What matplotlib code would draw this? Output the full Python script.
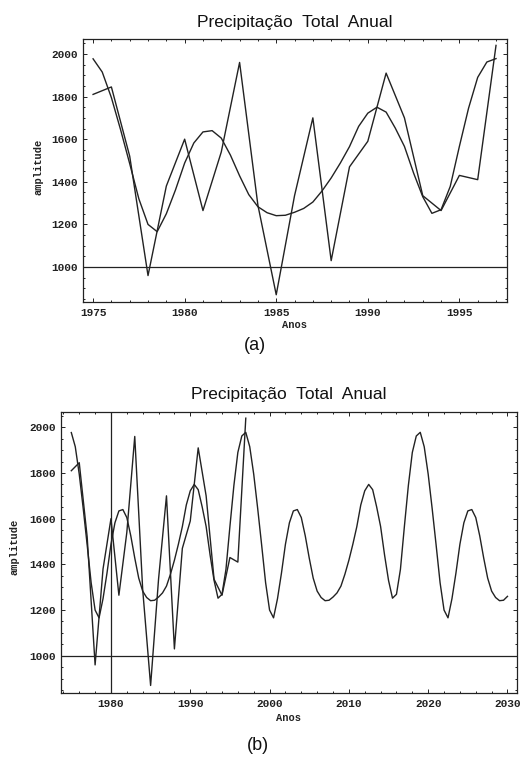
import numpy as np
import matplotlib
matplotlib.use("Agg")
import matplotlib.pyplot as plt
from matplotlib.ticker import MultipleLocator

# observed annual precipitation (1975-1997)
obs_years = list(range(1975, 1998))
obs_values = [1810, 1845, 1520, 960, 1380, 1600, 1265, 1540, 1960, 1290, 870,
              1335, 1700, 1030, 1470, 1590, 1910, 1700, 1335, 1265, 1430, 1410, 2040]

# fitted (harmonic) curve read every half year, 1975.0 - 2030.0
fit_years = np.arange(1975.0, 2030.01, 0.5)
fit_values = [
    1977, 1915, 1795, 1645, 1485, 1320, 1200, 1166, 1250, 1362, 1488, 1582, 1634, 1640,
    1605, 1525, 1428, 1340, 1283, 1255, 1241, 1243, 1257, 1275, 1305, 1357, 1418, 1488,
    1565, 1660, 1722, 1750, 1727, 1652, 1566, 1441, 1330, 1252, 1269, 1378, 1566, 1745,
    1890, 1962, 1978,
    1915, 1795, 1645, 1485, 1320, 1200, 1166, 1250, 1362, 1488, 1582, 1634, 1640,
    1605, 1525, 1428, 1340, 1283, 1255, 1241, 1243, 1257, 1275, 1305, 1357, 1418, 1488,
    1565, 1660, 1722, 1750, 1727, 1652, 1566, 1441, 1330, 1252, 1269, 1378, 1566, 1745,
    1890, 1962, 1978,
    1915, 1795, 1645, 1485, 1320, 1200, 1166, 1250, 1362, 1488, 1582, 1634, 1640,
    1605, 1525, 1428, 1340, 1283, 1255, 1241, 1243, 1260,
]

title = "Precipitação  Total  Anual"
ylabel = "amplitude"
xlabel = "Anos"
y_ticks = [1000, 1200, 1400, 1600, 1800, 2000]

W, H = 520, 763
fig = plt.figure(figsize=(W / 100, H / 100), dpi=100)
fig.patch.set_facecolor("white")

LC = "#222222"
mono = ["Liberation Mono", "DejaVu Sans Mono"]
sans = ["Liberation Sans", "DejaVu Sans"]


def px_axes(l, t, r, b):
    return fig.add_axes([l / W, 1 - b / H, (r - l) / W, (b - t) / H])


def style(ax, major_x, minor_x):
    ax.set_yticks(y_ticks)
    ax.yaxis.set_minor_locator(MultipleLocator(50))
    ax.xaxis.set_major_locator(MultipleLocator(major_x))
    ax.xaxis.set_minor_locator(MultipleLocator(minor_x))
    ax.tick_params(which="both", direction="in", top=True, right=True,
                   color=LC, width=0.7)
    ax.tick_params(which="major", length=3.0, labelsize=8, pad=4)
    ax.tick_params(which="minor", length=1.6)
    for lab in ax.get_xticklabels() + ax.get_yticklabels():
        lab.set_family(mono)
        lab.set_fontweight("bold")
        lab.set_color("#222222")
    for s in ax.spines.values():
        s.set_color(LC)
        s.set_linewidth(0.9)


# ---- (a) ----
ax1 = px_axes(83, 39, 507, 302)
ax1.plot(fit_years[:45], fit_values[:45], color=LC, lw=1.0)
ax1.plot(obs_years, obs_values, color=LC, lw=1.0)
ax1.axhline(1000, color=LC, lw=0.9)
ax1.set_xlim(1974.45, 1997.6)
ax1.set_ylim(836, 2070)
style(ax1, 5, 1)

fig.text(295 / W, 1 - 22 / H, title, ha="center", va="center", fontsize=12.5,
         family=sans, color="#111111")
fig.text(38 / W, 1 - 167 / H, ylabel, ha="center", va="center", rotation=90,
         fontsize=7.5, family=mono, fontweight="bold", color="#222222")
fig.text(295 / W, 1 - 325 / H, xlabel, ha="center", va="center",
         fontsize=7.5, family=mono, fontweight="bold", color="#222222")
fig.text(255 / W, 1 - 345 / H, "(a)", ha="center", va="center", fontsize=13,
         family=sans, color="#111111")

# ---- (b) ----
ax2 = px_axes(61, 412, 517, 693)
ax2.plot(fit_years, fit_values, color=LC, lw=1.0)
ax2.plot(obs_years, obs_values, color=LC, lw=1.0)
ax2.axhline(1000, color=LC, lw=0.9)
ax2.axvline(1980, color=LC, lw=0.9)
ax2.set_xlim(1973.7, 2031.2)
ax2.set_ylim(837, 2067)
style(ax2, 10, 2)

fig.text(289 / W, 1 - 395 / H, title, ha="center", va="center", fontsize=12.5,
         family=sans, color="#111111")
fig.text(15 / W, 1 - 547 / H, ylabel, ha="center", va="center", rotation=90,
         fontsize=7.5, family=mono, fontweight="bold", color="#222222")
fig.text(289 / W, 1 - 718 / H, xlabel, ha="center", va="center",
         fontsize=7.5, family=mono, fontweight="bold", color="#222222")
fig.text(258 / W, 1 - 745 / H, "(b)", ha="center", va="center", fontsize=13,
         family=sans, color="#111111")

fig.savefig("out.png", dpi=100, facecolor="white")
